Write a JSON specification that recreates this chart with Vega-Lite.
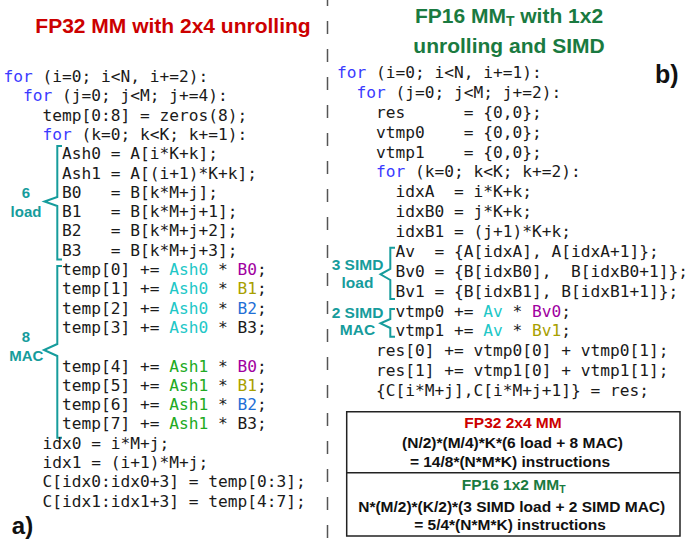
{
  "$schema": "https://vega.github.io/schema/vega-lite/v6.json",
  "width": 690,
  "height": 543,
  "padding": 0,
  "autosize": {"type": "none"},
  "background": "white",
  "config": {"view": {"stroke": null}},
  "datasets": {
    "left": [
      {"col": 0, "row": 0, "t": "for", "c": "#3a3aff"},
      {"col": 4, "row": 0, "t": "(i=0;\u00a0i<N,\u00a0i+=2):", "c": "#1a1a1a"},
      {"col": 2, "row": 1, "t": "for", "c": "#3a3aff"},
      {"col": 6, "row": 1, "t": "(j=0;\u00a0j<M;\u00a0j+=4):", "c": "#1a1a1a"},
      {"col": 4, "row": 2, "t": "temp[0:8]\u00a0=\u00a0zeros(8);", "c": "#1a1a1a"},
      {"col": 4, "row": 3, "t": "for", "c": "#3a3aff"},
      {"col": 8, "row": 3, "t": "(k=0;\u00a0k<K;\u00a0k+=1):", "c": "#1a1a1a"},
      {"col": 6, "row": 4, "t": "Ash0\u00a0=\u00a0A[i*K+k];", "c": "#1a1a1a"},
      {"col": 6, "row": 5, "t": "Ash1\u00a0=\u00a0A[(i+1)*K+k];", "c": "#1a1a1a"},
      {"col": 6, "row": 6, "t": "B0\u00a0\u00a0\u00a0=\u00a0B[k*M+j];", "c": "#1a1a1a"},
      {"col": 6, "row": 7, "t": "B1\u00a0\u00a0\u00a0=\u00a0B[k*M+j+1];", "c": "#1a1a1a"},
      {"col": 6, "row": 8, "t": "B2\u00a0\u00a0\u00a0=\u00a0B[k*M+j+2];", "c": "#1a1a1a"},
      {"col": 6, "row": 9, "t": "B3\u00a0\u00a0\u00a0=\u00a0B[k*M+j+3];", "c": "#1a1a1a"},
      {"col": 6, "row": 10, "t": "temp[0]\u00a0+=", "c": "#1a1a1a"},
      {"col": 17, "row": 10, "t": "Ash0", "c": "#22c7c7"},
      {"col": 22, "row": 10, "t": "*", "c": "#1a1a1a"},
      {"col": 24, "row": 10, "t": "B0", "c": "#a000a0"},
      {"col": 26, "row": 10, "t": ";", "c": "#1a1a1a"},
      {"col": 6, "row": 11, "t": "temp[1]\u00a0+=", "c": "#1a1a1a"},
      {"col": 17, "row": 11, "t": "Ash0", "c": "#22c7c7"},
      {"col": 22, "row": 11, "t": "*", "c": "#1a1a1a"},
      {"col": 24, "row": 11, "t": "B1", "c": "#a8a000"},
      {"col": 26, "row": 11, "t": ";", "c": "#1a1a1a"},
      {"col": 6, "row": 12, "t": "temp[2]\u00a0+=", "c": "#1a1a1a"},
      {"col": 17, "row": 12, "t": "Ash0", "c": "#22c7c7"},
      {"col": 22, "row": 12, "t": "*", "c": "#1a1a1a"},
      {"col": 24, "row": 12, "t": "B2", "c": "#1f6fd6"},
      {"col": 26, "row": 12, "t": ";", "c": "#1a1a1a"},
      {"col": 6, "row": 13, "t": "temp[3]\u00a0+=", "c": "#1a1a1a"},
      {"col": 17, "row": 13, "t": "Ash0", "c": "#22c7c7"},
      {"col": 22, "row": 13, "t": "*\u00a0B3;", "c": "#1a1a1a"},
      {"col": 6, "row": 15, "t": "temp[4]\u00a0+=", "c": "#1a1a1a"},
      {"col": 17, "row": 15, "t": "Ash1", "c": "#22aa22"},
      {"col": 22, "row": 15, "t": "*", "c": "#1a1a1a"},
      {"col": 24, "row": 15, "t": "B0", "c": "#a000a0"},
      {"col": 26, "row": 15, "t": ";", "c": "#1a1a1a"},
      {"col": 6, "row": 16, "t": "temp[5]\u00a0+=", "c": "#1a1a1a"},
      {"col": 17, "row": 16, "t": "Ash1", "c": "#22aa22"},
      {"col": 22, "row": 16, "t": "*", "c": "#1a1a1a"},
      {"col": 24, "row": 16, "t": "B1", "c": "#a8a000"},
      {"col": 26, "row": 16, "t": ";", "c": "#1a1a1a"},
      {"col": 6, "row": 17, "t": "temp[6]\u00a0+=", "c": "#1a1a1a"},
      {"col": 17, "row": 17, "t": "Ash1", "c": "#22aa22"},
      {"col": 22, "row": 17, "t": "*", "c": "#1a1a1a"},
      {"col": 24, "row": 17, "t": "B2", "c": "#1f6fd6"},
      {"col": 26, "row": 17, "t": ";", "c": "#1a1a1a"},
      {"col": 6, "row": 18, "t": "temp[7]\u00a0+=", "c": "#1a1a1a"},
      {"col": 17, "row": 18, "t": "Ash1", "c": "#22aa22"},
      {"col": 22, "row": 18, "t": "*\u00a0B3;", "c": "#1a1a1a"},
      {"col": 4, "row": 19, "t": "idx0\u00a0=\u00a0i*M+j;", "c": "#1a1a1a"},
      {"col": 4, "row": 20, "t": "idx1\u00a0=\u00a0(i+1)*M+j;", "c": "#1a1a1a"},
      {"col": 4, "row": 21, "t": "C[idx0:idx0+3]\u00a0=\u00a0temp[0:3];", "c": "#1a1a1a"},
      {"col": 4, "row": 22, "t": "C[idx1:idx1+3]\u00a0=\u00a0temp[4:7];", "c": "#1a1a1a"}
    ],
    "right": [
      {"col": 0, "row": 0, "t": "for", "c": "#3a3aff"},
      {"col": 4, "row": 0, "t": "(i=0;\u00a0i<N,\u00a0i+=1):", "c": "#1a1a1a"},
      {"col": 2, "row": 1, "t": "for", "c": "#3a3aff"},
      {"col": 6, "row": 1, "t": "(j=0;\u00a0j<M;\u00a0j+=2):", "c": "#1a1a1a"},
      {"col": 4, "row": 2, "t": "res\u00a0\u00a0\u00a0\u00a0\u00a0\u00a0=\u00a0{0,0};", "c": "#1a1a1a"},
      {"col": 4, "row": 3, "t": "vtmp0\u00a0\u00a0\u00a0\u00a0=\u00a0{0,0};", "c": "#1a1a1a"},
      {"col": 4, "row": 4, "t": "vtmp1\u00a0\u00a0\u00a0\u00a0=\u00a0{0,0};", "c": "#1a1a1a"},
      {"col": 4, "row": 5, "t": "for", "c": "#3a3aff"},
      {"col": 8, "row": 5, "t": "(k=0;\u00a0k<K;\u00a0k+=2):", "c": "#1a1a1a"},
      {"col": 6, "row": 6, "t": "idxA\u00a0\u00a0=\u00a0i*K+k;", "c": "#1a1a1a"},
      {"col": 6, "row": 7, "t": "idxB0\u00a0=\u00a0j*K+k;", "c": "#1a1a1a"},
      {"col": 6, "row": 8, "t": "idxB1\u00a0=\u00a0(j+1)*K+k;", "c": "#1a1a1a"},
      {"col": 6, "row": 9, "t": "Av\u00a0\u00a0=\u00a0{A[idxA],\u00a0A[idxA+1]};", "c": "#1a1a1a"},
      {"col": 6, "row": 10, "t": "Bv0\u00a0=\u00a0{B[idxB0],\u00a0\u00a0B[idxB0+1]};", "c": "#1a1a1a"},
      {"col": 6, "row": 11, "t": "Bv1\u00a0=\u00a0{B[idxB1],\u00a0B[idxB1+1]};", "c": "#1a1a1a"},
      {"col": 6, "row": 12, "t": "vtmp0\u00a0+=", "c": "#1a1a1a"},
      {"col": 15, "row": 12, "t": "Av", "c": "#22c7c7"},
      {"col": 18, "row": 12, "t": "*", "c": "#1a1a1a"},
      {"col": 20, "row": 12, "t": "Bv0", "c": "#a000a0"},
      {"col": 23, "row": 12, "t": ";", "c": "#1a1a1a"},
      {"col": 6, "row": 13, "t": "vtmp1\u00a0+=", "c": "#1a1a1a"},
      {"col": 15, "row": 13, "t": "Av", "c": "#22c7c7"},
      {"col": 18, "row": 13, "t": "*", "c": "#1a1a1a"},
      {"col": 20, "row": 13, "t": "Bv1", "c": "#a8a000"},
      {"col": 23, "row": 13, "t": ";", "c": "#1a1a1a"},
      {"col": 4, "row": 14, "t": "res[0]\u00a0+=\u00a0vtmp0[0]\u00a0+\u00a0vtmp0[1];", "c": "#1a1a1a"},
      {"col": 4, "row": 15, "t": "res[1]\u00a0+=\u00a0vtmp1[0]\u00a0+\u00a0vtmp1[1];", "c": "#1a1a1a"},
      {"col": 4, "row": 16, "t": "{C[i*M+j],C[i*M+j+1]}\u00a0=\u00a0res;", "c": "#1a1a1a"}
    ],
    "labels": [
      {"x": 173, "y": 33.3, "t": "FP32 MM with 2x4 unrolling", "c": "#cc0000", "s": 21},
      {"x": 460.4, "y": 22.7, "t": "FP16 MM", "c": "#1a7a40", "s": 21},
      {"x": 510.2, "y": 26, "t": "T", "c": "#1a7a40", "s": 14},
      {"x": 561.7, "y": 22.7, "t": "with 1x2", "c": "#1a7a40", "s": 21},
      {"x": 509, "y": 53.3, "t": "unrolling and SIMD", "c": "#1a7a40", "s": 21},
      {"x": 666.7, "y": 83, "t": "b)", "c": "#111111", "s": 25},
      {"x": 22.5, "y": 534, "t": "a)", "c": "#111111", "s": 24},
      {"x": 26, "y": 198.3, "t": "6", "c": "#169c9c", "s": 15},
      {"x": 26, "y": 216.7, "t": "load", "c": "#169c9c", "s": 15},
      {"x": 26, "y": 342.3, "t": "8", "c": "#169c9c", "s": 15},
      {"x": 26.3, "y": 361, "t": "MAC", "c": "#169c9c", "s": 15},
      {"x": 357.5, "y": 270, "t": "3 SIMD", "c": "#169c9c", "s": 15.5},
      {"x": 357.5, "y": 287.7, "t": "load", "c": "#169c9c", "s": 15.5},
      {"x": 357.5, "y": 318.3, "t": "2 SIMD", "c": "#169c9c", "s": 15.5},
      {"x": 357.5, "y": 335, "t": "MAC", "c": "#169c9c", "s": 15.5},
      {"x": 513, "y": 428, "t": "FP32 2x4 MM", "c": "#cc0000", "s": 15.5},
      {"x": 512.5, "y": 448, "t": "(N/2)*(M/4)*K*(6 load + 8 MAC)", "c": "#111111", "s": 15.5},
      {"x": 510, "y": 466.7, "t": "= 14/8*(N*M*K) instructions", "c": "#111111", "s": 15.5},
      {"x": 510.4, "y": 490, "t": "FP16 1x2 MM", "c": "#1a7a40", "s": 15.5},
      {"x": 562.4, "y": 493, "t": "T", "c": "#1a7a40", "s": 10.5},
      {"x": 511.7, "y": 511.7, "t": "N*(M/2)*(K/2)*(3 SIMD load + 2 SIMD MAC)", "c": "#111111", "s": 15.5},
      {"x": 510, "y": 530, "t": "= 5/4*(N*M*K) instructions", "c": "#111111", "s": 15.5}
    ],
    "braces": [
      {"b": "a", "i": 0, "x": 62, "y": 146},
      {"b": "a", "i": 1, "x": 57.3, "y": 146},
      {"b": "a", "i": 2, "x": 57.3, "y": 197},
      {"b": "a", "i": 3, "x": 44.5, "y": 201.5},
      {"b": "a", "i": 4, "x": 57.3, "y": 206},
      {"b": "a", "i": 5, "x": 57.3, "y": 259.5},
      {"b": "a", "i": 6, "x": 62, "y": 259.5},
      {"b": "b", "i": 0, "x": 62, "y": 266},
      {"b": "b", "i": 1, "x": 57.3, "y": 266},
      {"b": "b", "i": 2, "x": 57.3, "y": 344},
      {"b": "b", "i": 3, "x": 44, "y": 350},
      {"b": "b", "i": 4, "x": 57.3, "y": 356},
      {"b": "b", "i": 5, "x": 57.3, "y": 437.7},
      {"b": "b", "i": 6, "x": 62, "y": 437.7},
      {"b": "c", "i": 0, "x": 395, "y": 247.7},
      {"b": "c", "i": 1, "x": 390.3, "y": 247.7},
      {"b": "c", "i": 2, "x": 390.3, "y": 269},
      {"b": "c", "i": 3, "x": 380.5, "y": 274.3},
      {"b": "c", "i": 4, "x": 390.3, "y": 280},
      {"b": "c", "i": 5, "x": 390.3, "y": 299},
      {"b": "c", "i": 6, "x": 395, "y": 299},
      {"b": "d", "i": 0, "x": 395, "y": 309},
      {"b": "d", "i": 1, "x": 390.3, "y": 309},
      {"b": "d", "i": 2, "x": 390.3, "y": 319},
      {"b": "d", "i": 3, "x": 380.5, "y": 323.3},
      {"b": "d", "i": 4, "x": 390.3, "y": 328},
      {"b": "d", "i": 5, "x": 390.3, "y": 336.7},
      {"b": "d", "i": 6, "x": 395, "y": 336.7}
    ],
    "box": [{"x1": 346.7, "x2": 680, "y1": 411.7, "y2": 536}],
    "hline": [{"x1": 346.7, "x2": 680, "y": 472.7}],
    "vline": [{"x": 327.5, "y1": 0, "y2": 543}]
  },
  "layer": [
    {
      "data": {"name": "vline"},
      "mark": {"type": "rule", "color": "#555555", "strokeWidth": 1.5, "strokeDash": [13, 15], "strokeDashOffset": 7},
      "encoding": {
        "x": {"field": "x", "type": "quantitative", "scale": {"domain": [0, 690], "nice": false, "zero": false}, "axis": null},
        "y": {"field": "y1", "type": "quantitative", "scale": {"domain": [0, 543], "nice": false, "zero": false, "reverse": true}, "axis": null},
        "y2": {"field": "y2"}
      }
    },
    {
      "data": {"name": "box"},
      "mark": {"type": "rect", "filled": false, "color": "#222222", "strokeWidth": 1.5},
      "encoding": {
        "x": {"field": "x1", "type": "quantitative", "scale": {"domain": [0, 690], "nice": false, "zero": false}, "axis": null},
        "x2": {"field": "x2"},
        "y": {"field": "y1", "type": "quantitative", "scale": {"domain": [0, 543], "nice": false, "zero": false, "reverse": true}, "axis": null},
        "y2": {"field": "y2"}
      }
    },
    {
      "data": {"name": "hline"},
      "mark": {"type": "rule", "color": "#222222", "strokeWidth": 1.5},
      "encoding": {
        "x": {"field": "x1", "type": "quantitative", "scale": {"domain": [0, 690], "nice": false, "zero": false}, "axis": null},
        "x2": {"field": "x2"},
        "y": {"field": "y", "type": "quantitative", "scale": {"domain": [0, 543], "nice": false, "zero": false, "reverse": true}, "axis": null}
      }
    },
    {
      "data": {"name": "braces"},
      "mark": {"type": "line", "color": "#169c9c", "strokeWidth": 2},
      "encoding": {
        "x": {"field": "x", "type": "quantitative", "scale": {"domain": [0, 690], "nice": false, "zero": false}, "axis": null},
        "y": {"field": "y", "type": "quantitative", "scale": {"domain": [0, 543], "nice": false, "zero": false, "reverse": true}, "axis": null},
        "detail": {"field": "b", "type": "nominal"},
        "order": {"field": "i", "type": "quantitative"}
      }
    },
    {
      "data": {"name": "labels"},
      "mark": {"type": "text", "font": "Liberation Sans", "fontWeight": "bold", "align": "center", "baseline": "alphabetic"},
      "encoding": {
        "x": {"field": "x", "type": "quantitative", "scale": {"domain": [0, 690], "nice": false, "zero": false}, "axis": null},
        "y": {"field": "y", "type": "quantitative", "scale": {"domain": [0, 543], "nice": false, "zero": false, "reverse": true}, "axis": null},
        "text": {"field": "t"},
        "color": {"field": "c", "type": "nominal", "scale": null},
        "size": {"field": "s", "type": "quantitative", "scale": null}
      }
    },
    {
      "data": {"name": "left"},
      "mark": {"type": "text", "font": "DejaVu Sans Mono", "fontSize": 16.2, "align": "left", "baseline": "middle"},
      "encoding": {
        "x": {"field": "col", "type": "quantitative", "scale": {"domain": [-0.359, 70.41], "nice": false, "zero": false}, "axis": null},
        "y": {"field": "row", "type": "quantitative", "scale": {"domain": [-3.99, 24.145], "nice": false, "zero": false, "reverse": true}, "axis": null},
        "text": {"field": "t"},
        "color": {"field": "c", "type": "nominal", "scale": null}
      }
    },
    {
      "data": {"name": "right"},
      "mark": {"type": "text", "font": "DejaVu Sans Mono", "fontSize": 16.2, "align": "left", "baseline": "middle"},
      "encoding": {
        "x": {"field": "col", "type": "quantitative", "scale": {"domain": [-34.564, 36.205], "nice": false, "zero": false}, "axis": null},
        "y": {"field": "row", "type": "quantitative", "scale": {"domain": [-3.672, 23.642], "nice": false, "zero": false, "reverse": true}, "axis": null},
        "text": {"field": "t"},
        "color": {"field": "c", "type": "nominal", "scale": null}
      }
    }
  ],
  "resolve": {"scale": {"x": "independent", "y": "independent", "color": "independent", "size": "independent"}}
}
